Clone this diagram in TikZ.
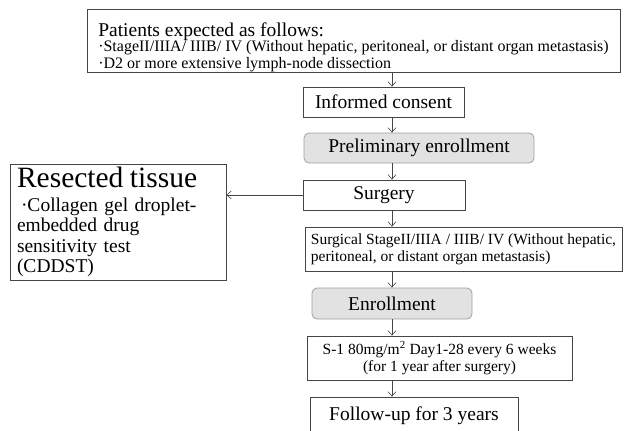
\documentclass[tikz,border=0pt]{standalone}
\usepackage{fontspec}
\usetikzlibrary{arrows.meta}
\setmainfont{Liberation Serif}
\newcommand{\mainsize}{\fontsize{19.5}{22}\selectfont}
\newcommand{\smallsize}{\fontsize{15.5}{17}\selectfont}
\newcommand{\listsize}{\fontsize{16}{17}\selectfont}
\newcommand{\bodysize}{\fontsize{19.5}{20.5}\selectfont}
\newcommand{\titlesize}{\fontsize{29.5}{30}\selectfont}
\definecolor{boxcolor}{RGB}{70, 70, 70}
\definecolor{stepfill}{RGB}{226, 226, 226}
\definecolor{stepline}{RGB}{160, 160, 160}

\begin{document}
\begin{tikzpicture}[x=1pt, y=-1pt,
    box/.style={draw = boxcolor, line width=0.8pt, inner sep=0pt, font=\mainsize, text=black},
    grey box/.style={box, fill = stepfill, draw = stepline, rounded corners=5pt},
    arc/.style={draw, line width=0.6pt, -{Straight Barb[length=4.5pt, width=8pt]}, boxcolor}
    ]

    \useasboundingbox (0, 0) rectangle (624, 431);

    % Define boxes
    \node[box, minimum width=533pt, minimum height=63pt, align=left] (patients) at (353.5, 40.5)
        {\rule{0pt}{27pt}Patients expected as follows:\\[-7pt]
         {\listsize ·StageII/IIIA/ IIIB/ IV (Without hepatic, peritoneal, or distant organ metastasis)}\\[-5pt]
         {\listsize ·D2 or more extensive lymph-node dissection}};
    \node[box, minimum width=161pt, minimum height=30pt] (consent) at (383.5, 102) {Informed consent};
    \node[grey box, minimum width=230pt, minimum height=30pt] (prelim) at (419, 148) {Preliminary enrollment};
    \node[box, minimum width=162pt, minimum height=30pt] (surgery) at (384, 195) {Surgery};
    \node[box, minimum width=216pt, minimum height=116pt, text width=202pt, inner xsep=7pt,
          align=left, font=\bodysize] (tissue) at (118, 222)
        {{\titlesize Resected tissue}\\[3pt]
         \hspace{4pt}·Collagen gel droplet-\\
         embedded drug\\
         sensitivity test\\
         (CDDST)};
    \node[box, minimum width=317pt, minimum height=44pt, align=left, font=\smallsize] (stage) at (463.5, 249)
        {Surgical StageII/IIIA / IIIB/ IV (Without hepatic,\\
         peritoneal, or distant organ metastasis)};
    \node[grey box, minimum width=160pt, minimum height=31pt] (enroll) at (392, 303.5) {Enrollment};
    \node[box, minimum width=265pt, minimum height=44pt, align=center, font=\smallsize] (drug) at (439.5, 358)
        {S-1 80mg/m\textsuperscript{2} Day1-28 every 6 weeks\\
         (for 1 year after surgery)};
    \node[box, minimum width=208pt, minimum height=38pt] (followup) at (414, 416) {Follow-up for 3 years};

    % Define arrows
    \coordinate (spine) at (392, 0);
    \foreach \a/\b in {patients/consent, consent/prelim, prelim/surgery, surgery/stage,
                       stage/enroll, enroll/drug, drug/followup}{
        \draw[arc] (\a.south -| spine) -- (\b.north -| spine);
    }
    \draw[arc] (surgery.west) -- (surgery.west -| tissue.east);
\end{tikzpicture}
\end{document}
